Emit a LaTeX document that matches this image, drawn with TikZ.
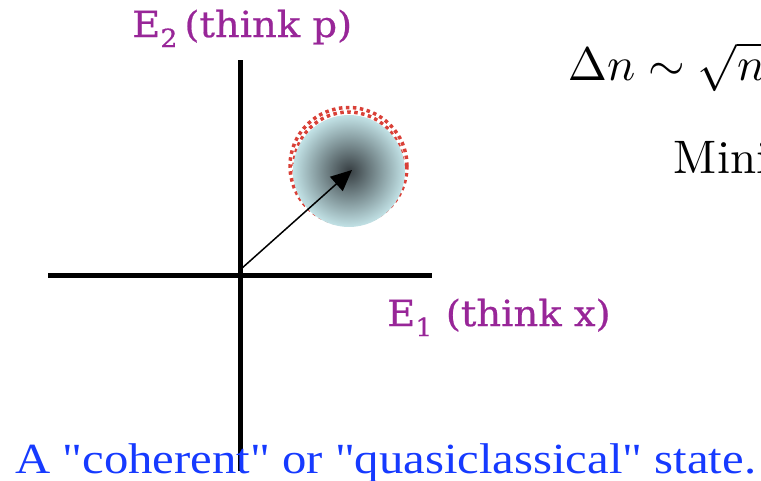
\documentclass[tikz,border=0pt]{standalone}
\usepackage[no-math]{fontspec}
\newfontfamily\labfont[FakeBold=0.6]{DejaVu Serif}
\newfontfamily\capfont{Liberation Serif}
\usetikzlibrary{arrows.meta}
\definecolor{lblpurple}{RGB}{152,38,152}
\definecolor{capblue}{RGB}{22,58,255}
\definecolor{discblue}{RGB}{194,226,230}
\definecolor{discdark}{RGB}{55,62,66}
\definecolor{ringred}{RGB}{210,30,20}
\tikzset{
  axisline/.style={line width=5pt},
  purplelabel/.style={text=lblpurple, font=\labfont\fontsize{36}{38}\selectfont, inner sep=0pt, anchor=base west, xscale=1.07},
  captiontext/.style={text=capblue, font=\capfont\fontsize{43}{46}\selectfont, inner sep=0pt, anchor=base west, xscale=1.133},
  mathtext/.style={inner sep=0pt, anchor=base west, scale=4.7},
  ringdots/.style={ringred, line width=3.5pt, dash pattern=on 3.5pt off 3.5pt, opacity=0.85},
  vecarrow/.style={line width=1.5pt, -{Triangle[length=21pt,width=19pt]}},
}
\begin{document}
\begin{tikzpicture}[x=1pt,y=-1pt]
\useasboundingbox (0,0) rectangle (761,480);
\clip (0,0) rectangle (761,480);
% axes
\coordinate (vtop) at (240,60);
\coordinate (vbot) at (240,471);
\coordinate (hleft) at (48,275.5);
\coordinate (hright) at (432,275.5);
\coordinate (origin) at (241,269);
\coordinate (tip) at (352,170);
\draw[axisline] (vtop) -- (vbot);
\draw[axisline] (hleft) -- (hright);
% ring + disc
\draw[ringdots] (348.5,166) circle (58.5);
\draw[ringdots, dash phase=3.5pt] (348.5,166.5) circle (54.5);
\shade[inner color=discdark, outer color=discblue] (349,171) circle (56);
\draw[vecarrow] (origin) -- (tip);
% labels
\node[purplelabel] (e2) at (132,37) {E\textsubscript{2}\,(think p)};
\node[purplelabel] (e1) at (387,326) {E\textsubscript{1}\,\,(think x)};
\node[mathtext] (dn) at (567,80) {$\Delta n \sim \sqrt{n}\;$};
\node[mathtext] (mini) at (673,173) {Mini};
\node[captiontext] (cap) at (15,473) {A "coherent" or "quasiclassical" state.};
\end{tikzpicture}
\end{document}
